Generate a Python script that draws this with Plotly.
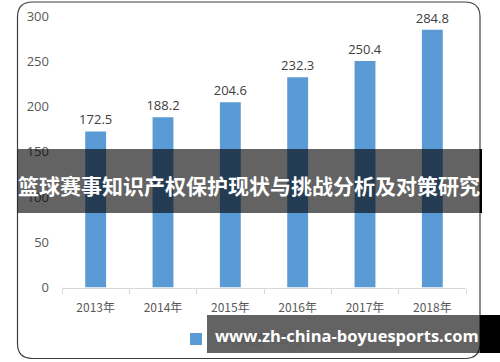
import plotly.graph_objects as go

years = ["2013年", "2014年", "2015年", "2016年", "2017年", "2018年"]
values = [172.5, 188.2, 204.6, 232.3, 250.4, 284.8]
value_labels = ["172.5", "188.2", "204.6", "232.3", "250.4", "284.8"]
y_ticks = [0, 50, 100, 150, 200, 250, 300]
series_name = "市场规模（亿元）"
banner_text = "篮球赛事知识产权保护现状与挑战分析及对策研究"
watermark_text = "www.zh-china-boyuesports.com"

W, H = 500, 362
def px(x): return x / W
def py(y): return 1 - y / H

fig = go.Figure()
fig.add_trace(go.Bar(
    x=years, y=values, name=series_name,
    marker=dict(color="#5B9BD5", line=dict(width=0)),
    width=0.31,
    text=value_labels, textposition="outside", cliponaxis=False, constraintext="none",
    textfont=dict(family="Open Sans, Noto Sans CJK SC", size=13, color="#404040"),
))

# rounded frame
x0, y0, x1, y1, r = px(17.5), py(2), px(480), py(358.5), 15
rx, ry = r / W, r / H
frame = (f"M {x0+rx},{y0} L {x1-rx},{y0} Q {x1},{y0} {x1},{y0-ry} "
         f"L {x1},{y1+ry} Q {x1},{y1} {x1-rx},{y1} L {x0+rx},{y1} "
         f"Q {x0},{y1} {x0},{y1+ry} L {x0},{y0-ry} Q {x0},{y0} {x0+rx},{y0} Z")
shapes = [
    dict(type="path", path=frame, xref="paper", yref="paper",
         line=dict(color="#3f3f3f", width=1.2), layer="below"),
    dict(type="rect", xref="paper", yref="paper", x0=px(17.5), x1=px(480), y0=py(149), y1=py(213),
         fillcolor="rgba(0,0,0,0.61)", line=dict(width=0), layer="above"),
    dict(type="rect", xref="paper", yref="paper", x0=px(480), x1=px(482), y0=py(149), y1=py(213),
         fillcolor="#000000", line=dict(width=0), layer="above"),
    dict(type="rect", xref="paper", yref="paper", x0=px(207), x1=px(480), y0=py(315), y1=py(353),
         fillcolor="rgba(0,0,0,0.61)", line=dict(width=0), layer="above"),
    dict(type="rect", xref="paper", yref="paper", x0=px(480), x1=px(500), y0=py(315), y1=py(353),
         fillcolor="#000000", line=dict(width=0), layer="above"),
]

annotations = [
    dict(text=f"<b>{banner_text}</b>", x=px(249), y=py(185), xref="paper", yref="paper",
         showarrow=False, xanchor="center", yanchor="middle",
         font=dict(family="Noto Sans CJK SC", size=21, color="white")),
    dict(text=f"<b>{watermark_text}</b>", x=px(346.5), y=py(335), xref="paper", yref="paper",
         showarrow=False, xanchor="center", yanchor="middle",
         font=dict(family="Open Sans, DejaVu Sans", size=16.5, color="white")),
]

fig.update_layout(
    width=W, height=H, margin=dict(l=0, r=0, t=0, b=0, autoexpand=False),
    paper_bgcolor="white", plot_bgcolor="white",
    showlegend=True,
    legend=dict(x=px(176), y=py(339), xanchor="left", yanchor="middle",
                orientation="h", font=dict(family="Noto Sans CJK SC", size=12, color="#595959"),
                bgcolor="rgba(0,0,0,0)"),
    xaxis=dict(domain=[px(62), px(466)], type="category", showgrid=False, automargin=False,
               showline=True, linecolor="#d9d9d9", linewidth=1,
               ticks="outside", tickson="boundaries", ticklen=5, tickcolor="#d9d9d9",
               ticklabelstandoff=9,
               tickfont=dict(family="Noto Sans CJK SC", size=12, color="#595959")),
    yaxis=dict(domain=[py(287.5), py(16)], range=[0, 300], tickvals=y_ticks, automargin=False,
               showgrid=False, showline=False, zeroline=False, ticks="",
               ticklabelstandoff=12,
               tickfont=dict(family="Open Sans", size=13, color="#595959")),
    shapes=shapes, annotations=annotations,
)
fig.write_html("out.html")
